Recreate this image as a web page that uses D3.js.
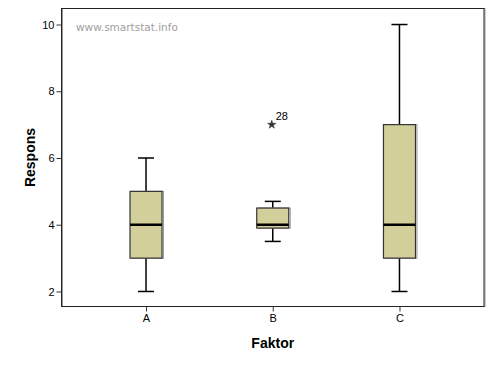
<!DOCTYPE html>
<html>
<head>
<meta charset="utf-8">
<script src="https://cdn.jsdelivr.net/npm/d3@7"></script>
<style>
  body { margin: 0; background: #fff; }
  text { font-family: Arial, "Liberation Sans", sans-serif; }
</style>
</head>
<body>
<div id="chart"></div>
<script>
// box plot data per group
let groups = ["A", "B", "C"];
let whiskerLow = [2, 3.5, 2];
let q1 = [3, 3.9, 3];
let median = [4, 4, 4];
let q3 = [5, 4.5, 7];
let whiskerHigh = [6, 4.7, 10];
let outlierGroup = ["B"];
let outlierValue = [7];
let outlierLabel = ["28"];
let yTicks = [2, 4, 6, 8, 10];

const width = 496, height = 371;
const margin = {left: 61.5, top: 8.5, right: 12, bottom: 64.5};

let svg = d3.select("#chart")
    .append("svg")
    .attr("width", width)
    .attr("height", height);

let x = d3.scalePoint()
    .domain(groups)
    .range([margin.left, width - margin.right])
    .padding(0.667);

let y = d3.scaleLinear()
    .domain([1.55, 10.48])
    .range([height - margin.bottom, margin.top]);

let data = groups.map(function(g, i) {
    return {g: g, lo: whiskerLow[i], q1: q1[i], med: median[i], q3: q3[i], hi: whiskerHigh[i]};
});

// frame (top/right gray shadow)
svg.append("rect")
    .attr("x", margin.left + 1).attr("y", margin.top)
    .attr("width", width - margin.right - margin.left)
    .attr("height", height - margin.bottom - margin.top)
    .attr("fill", "none").attr("stroke", "#999");
svg.append("rect")
    .attr("x", margin.left).attr("y", margin.top)
    .attr("width", width - margin.right - margin.left)
    .attr("height", height - margin.bottom - margin.top)
    .attr("fill", "none").attr("stroke", "#222");

// axes
let yAxis = svg.append("g")
    .attr("transform", `translate(${margin.left},0)`)
    .call(d3.axisLeft(y).tickValues(yTicks).tickSize(5).tickPadding(2));
let xAxis = svg.append("g")
    .attr("transform", `translate(0,${height - margin.bottom})`)
    .call(d3.axisBottom(x).tickSize(5).tickPadding(3));
[yAxis, xAxis].forEach(function(a) {
    a.select(".domain").remove();
    a.selectAll("line").attr("stroke", "#333");
    a.selectAll("text").style("font-size", "11px").attr("fill", "#000");
});

svg.append("text")
    .attr("x", 76).attr("y", 31)
    .style("font-family", "'DejaVu Sans', Verdana, sans-serif")
    .style("font-size", "10.5px")
    .attr("fill", "#a0a0a0")
    .text("www.smartstat.info");

const boxW = 32, capW = 16;

let box = svg.selectAll(".box").data(data).enter().append("g").attr("class", "box");

box.append("line")
    .attr("x1", d => x(d.g)).attr("x2", d => x(d.g))
    .attr("y1", d => y(d.hi)).attr("y2", d => y(d.lo))
    .attr("stroke", "#000").attr("stroke-width", 1.5);
box.selectAll(".cap").data(d => [d, d].map((v, k) => ({g: v.g, v: k ? v.lo : v.hi})))
    .enter().append("line")
    .attr("x1", d => x(d.g) - capW / 2).attr("x2", d => x(d.g) + capW / 2)
    .attr("y1", d => y(d.v)).attr("y2", d => y(d.v))
    .attr("stroke", "#000").attr("stroke-width", 1.5);
box.append("rect")
    .attr("x", d => x(d.g) - boxW / 2 + 1.5)
    .attr("y", d => y(d.q3))
    .attr("width", boxW)
    .attr("height", d => y(d.q1) - y(d.q3))
    .attr("fill", "none").attr("stroke", "#999").attr("stroke-width", 1);
box.append("rect")
    .attr("x", d => x(d.g) - boxW / 2)
    .attr("y", d => y(d.q3))
    .attr("width", boxW)
    .attr("height", d => y(d.q1) - y(d.q3))
    .attr("fill", "#d3cf9a").attr("stroke", "#333").attr("stroke-width", 1.2);
box.append("line")
    .attr("x1", d => x(d.g) - boxW / 2).attr("x2", d => x(d.g) + boxW / 2)
    .attr("y1", d => y(d.med)).attr("y2", d => y(d.med))
    .attr("stroke", "#000").attr("stroke-width", 2.5);

// extreme values
outlierGroup.forEach(function(g, i) {
    svg.append("path")
        .attr("d", d3.symbol().type(d3.symbolStar).size(22)())
        .attr("transform", `translate(${x(g) - 1},${y(outlierValue[i])})`)
        .attr("fill", "#333").attr("stroke", "#333").attr("stroke-width", 0.5);
    svg.append("text")
        .attr("x", x(g) + 3).attr("y", y(outlierValue[i]) - 5)
        .style("font-size", "11px")
        .text(outlierLabel[i]);
});

svg.append("text")
    .attr("transform", `translate(35,${(margin.top + height - margin.bottom) / 2})rotate(-90)`)
    .style("text-anchor", "middle")
    .style("font-size", "14px").style("font-weight", "bold")
    .text("Respons");
svg.append("text")
    .attr("x", x("B")).attr("y", 348)
    .style("text-anchor", "middle")
    .style("font-size", "14px").style("font-weight", "bold")
    .text("Faktor");
</script>
</body>
</html>
